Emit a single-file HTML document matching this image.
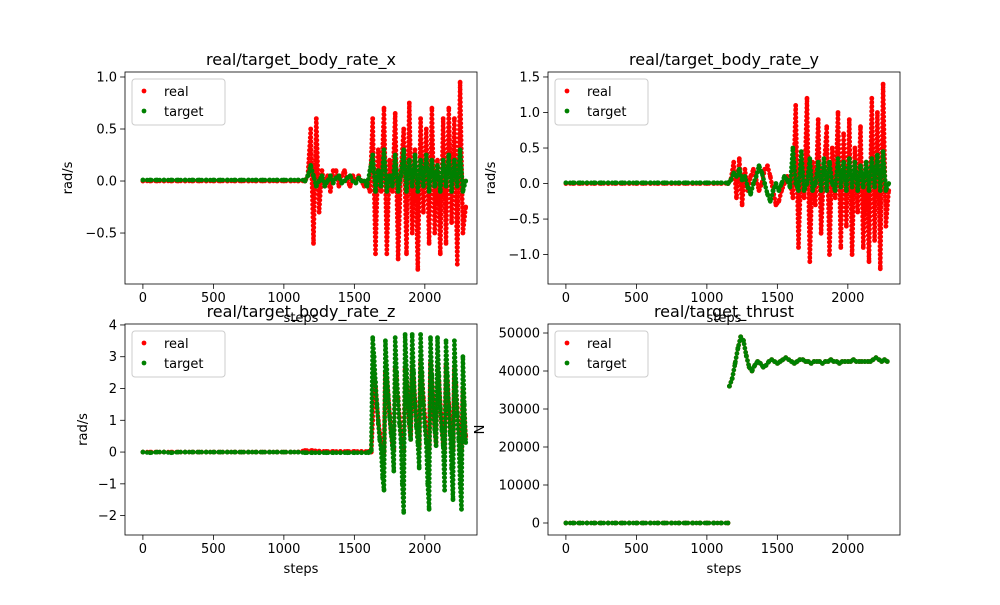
<!DOCTYPE html>
<html><head><meta charset="utf-8">
<style>
html,body{margin:0;padding:0;background:#fff;}
svg text{font-family:"DejaVu Sans","Liberation Sans",sans-serif;}
</style></head>
<body>
<svg id="fig" width="1000" height="600" viewBox="0 0 1000 600" xmlns="http://www.w3.org/2000/svg">
<rect x="0" y="0" width="1000" height="600" fill="#fff"/>
</svg>
<script>
// ---- data: flat segments use stride 50 from step 0; active segments use the given start and stride
const xRealFlat = [0,0,0,0,0,0,0,0,0,0,0,0,0,0,0,0,0,0,0,0,0,0,0,0];
const xTargetFlat = [0.01,0.01,0.01,0.01,0.01,0.01,0.01,0.01,0.01,0.01,0.01,0.01,0.01,0.01,0.01,0.01,0.01,0.01,0.01,0.01,0.01,0.01,0.01,0.01];
const xRealActive = [0,0.05,0.5,-0.6,0.6,-0.3,0.1,-0.05,0.05,-0.1,0.1,0.1,-0.05,0.05,0.1,0,-0.05,0.05,0,0.05,0,-0.05,0,-0.1,0.6,-0.7,0.3,-0.1,0.7,-0.7,0.2,-0.1,0.65,-0.75,0.1,0.5,-0.7,0.75,-0.5,0.3,-0.85,0.6,-0.3,0.5,-0.6,0.7,-0.5,0.2,-0.7,0.6,-0.6,0.7,-0.4,0.6,-0.8,0.95,-0.5,-0.25];
const xTargetActive = [0,0.05,0.15,0.05,-0.05,0,0.05,-0.05,0,0.05,-0.02,0.03,0.05,-0.02,0,0.03,0.05,0,-0.02,0.03,0,0,-0.05,0.1,0.25,-0.1,0.1,-0.05,0.3,-0.1,0.05,-0.05,0.25,-0.1,0.05,0.3,-0.1,0.2,-0.05,0.25,-0.1,0.2,-0.05,0.25,-0.1,0.2,-0.05,0.15,-0.1,0.2,-0.05,0.25,-0.1,0.2,-0.05,0.3,-0.1,0];
const yRealFlat = [0,0,0,0,0,0,0,0,0,0,0,0,0,0,0,0,0,0,0,0,0,0,0,0];
const yTargetFlat = [0.01,0.01,0.01,0.01,0.01,0.01,0.01,0.01,0.01,0.01,0.01,0.01,0.01,0.01,0.01,0.01,0.01,0.01,0.01,0.01,0.01,0.01,0.01,0.01];
const yRealActive = [0,0.05,0.3,-0.2,0.35,-0.3,0.2,-0.1,0.1,0.2,0.05,-0.1,0,0.2,0.25,0.1,-0.1,-0.3,-0.25,-0.1,0,0.1,0,-0.2,1.1,-0.9,0.3,-0.2,1.2,-1.1,0.3,-0.3,0.9,-0.7,0.2,0.8,-1.0,0.5,-0.2,1.0,-0.9,0.7,-0.6,0.9,-1.0,0.5,-0.4,0.8,-0.9,0.3,-1.1,1.2,-0.8,1.0,-1.2,1.4,-0.6,-0.1];
const yTargetActive = [0,0.05,0.15,0.1,0.2,0.05,0.1,-0.05,-0.15,0,0.1,0.25,0.15,0,-0.15,-0.25,-0.1,0,-0.1,0,0.1,0.05,-0.05,0.5,0,-0.1,0.45,-0.1,0,0.35,-0.1,0,0.3,-0.1,0.35,-0.1,0.3,0,-0.1,0.35,-0.05,0.3,-0.1,0.35,-0.05,0.3,-0.1,0.25,-0.05,0.3,-0.1,0.35,-0.05,0.4,-0.1,0.45,-0.1,0];
const zRealFlat = [0,0,0,0,0,0,0,0,0,0,0,0,0,0,0,0,0,0,0,0,0,0,0,0.05,0.05,0.03,0.02,0.02,0.02,0.02,0.02,0.02,0.02];
const zTargetFlat = [0,-0.02,0,0,-0.02,0,0,0,0,0,0,0,0,0,0,0,0,0,0,0,0,0,0,-0.02,-0.02,-0.02,-0.02,-0.02,-0.02,-0.02,-0.02,-0.02,-0.02];
const zRealActive = [0,0,0,1.0,2.5,2.0,1.5,1.0,0.6,0.3,0.1,0,2.5,2.3,1.8,1.2,0.7,0.3,0.1,2.6,2.3,1.7,1.1,0.6,0.3,0.1,2.6,2.2,1.5,0.9,0.4,2.7,2.3,1.6,1.0,0.5,0.2,2.8,2.4,1.7,1.1,0.6,0.3,0.1,2.8,2.2,1.5,0.8,0.3,2.7,2.2,1.5,0.8,0.3,0.1,2.7,2.2,1.5,0.8,0.3,0.1,2.6,2.1,1.4,0.7,0.3,0.1,2.0,1.2,0.5];
const zTargetActive = [0,0,0.05,3.6,3.0,2.2,1.5,0.9,0.4,0.1,-0.8,-1.2,3.5,2.6,1.8,1.1,0.6,0.2,-0.6,3.6,2.5,1.6,0.9,0.4,-1.0,-1.9,3.7,2.6,1.6,0.9,0.4,3.7,2.5,1.5,0.8,0.3,-0.5,3.7,2.5,1.5,0.8,0.3,-1.0,-1.8,3.6,2.4,1.4,0.7,0.2,3.6,2.4,1.4,0.7,0.2,-1.2,3.5,2.4,1.4,0.6,-0.5,-1.5,3.5,2.2,1.2,0.4,-1.0,-1.8,3.0,1.5,0.3];
const tRealFlat = [0,0,0,0,0,0,0,0,0,0,0,0,0,0,0,0,0,0,0,0,0,0,0,0];
const tTargetFlat = [0,0,0,0,0,0,0,0,0,0,0,0,0,0,0,0,0,0,0,0,0,0,0,0];
const tRealActive = [36000,38000,42000,46000,49000,48000,44000,41000,40000,41500,42500,42000,41000,41500,42500,43000,42500,42000,42500,43000,43500,43000,42500,42000,42500,43000,43000,42500,42500,42000,42500,42500,42500,42000,42500,42500,43000,42500,42500,42000,42500,42500,42500,42500,43000,42500,42500,42500,42500,42500,42500,43000,43500,43000,42500,43000,42500];
const tTargetActive = [36000,38000,42000,46000,49000,48000,44000,41000,40000,41500,42500,42000,41000,41500,42500,43000,42500,42000,42500,43000,43500,43000,42500,42000,42500,43000,43000,42500,42500,42000,42500,42500,42500,42000,42500,42500,43000,42500,42500,42000,42500,42500,42500,42500,43000,42500,42500,42500,42500,42500,42500,43000,43500,43000,42500,43000,42500];
const xTicks = [0,500,1000,1500,2000];
const ticksX = [-0.5,0.0,0.5,1.0];
const ticksY = [-1.0,-0.5,0.0,0.5,1.0,1.5];
const ticksZ = [-2,-1,0,1,2,3,4];
const ticksT = [0,10000,20000,30000,40000,50000];

const NS = "http://www.w3.org/2000/svg";
const svg = document.getElementById('fig');
function mk(tag, attrs, parent){
  const e = document.createElementNS(NS, tag);
  for (const k in attrs) e.setAttribute(k, attrs[k]);
  (parent||svg).appendChild(e);
  return e;
}
const panels = [
  {name:'body-rate-x', title:'real/target_body_rate_x', L:125,T:72,W:352,H:212, ymin:-0.99, ymax:1.048, yt:ticksX, yfmt:v=>v.toFixed(1), ylabel:'rad/s', ylx:72,
   series:[[xRealFlat,xRealActive,1150,20,'#ff0000','real'],[xTargetFlat,xTargetActive,1150,20,'#008000','target']]},
  {name:'body-rate-y', title:'real/target_body_rate_y', L:548,T:72,W:352,H:212, ymin:-1.414, ymax:1.57, yt:ticksY, yfmt:v=>v.toFixed(1), ylabel:'rad/s', ylx:495,
   series:[[yRealFlat,yRealActive,1150,20,'#ff0000','real'],[yTargetFlat,yTargetActive,1150,20,'#008000','target']]},
  {name:'body-rate-z', title:'real/target_body_rate_z', L:125,T:324,W:352,H:211, ymin:-2.61, ymax:4.03, yt:ticksZ, yfmt:v=>String(v), ylabel:'rad/s', ylx:87,
   series:[[zRealFlat,zRealActive,1600,10,'#ff0000','real'],[zTargetFlat,zTargetActive,1600,10,'#008000','target']]},
  {name:'thrust', title:'real/target_thrust', L:548,T:324,W:352,H:211, ymin:-3160, ymax:52370, yt:ticksT, yfmt:v=>String(v), ylabel:'N', ylx:484,
   series:[[tRealFlat,tRealActive,1160,20,'#ff0000','real'],[tTargetFlat,tTargetActive,1160,20,'#008000','target']], gap:true}
];
const XMIN=-127, XMAX=2370;
panels.forEach(p=>{
  const g = mk('g',{});
  
  
  const sx = v => p.L + (v-XMIN)/(XMAX-XMIN)*p.W;
  const sy = v => p.T + p.H - (v-p.ymin)/(p.ymax-p.ymin)*p.H;
  const clipId = 'c'+p.name;
  const cp = mk('clipPath',{id:clipId},g);
  mk('rect',{x:p.L,y:p.T,width:p.W,height:p.H},cp);
  const plot = mk('g',{'clip-path':'url(#'+clipId+')'},g);
  
  
  p.series.forEach(s=>{
    const [flat, act, start, stride, col, label] = s;
    const pts = [];
    flat.forEach((v,i)=>{ if (i*50 <= start) pts.push([i*50, v, 0]); });
    act.forEach((v,i)=>pts.push([start+i*stride, v, 1]));
    let d = '';
    pts.forEach((q,i)=>{
      const brk = i===0 || (p.gap && pts[i-1][2]!==q[2]);
      d += (brk?'M':'L') + sx(q[0]).toFixed(1) + ' ' + sy(q[1]).toFixed(1) + ' ';
    });
    const path = mk('path',{d:d, fill:'none', stroke:col, 'stroke-width':4.6, 'stroke-dasharray':'0.01 4.2', 'stroke-linejoin':'round', 'stroke-linecap':'round'}, plot);
    
    
    pts.forEach(q=>{
      const c = mk('circle',{cx:sx(q[0]).toFixed(1), cy:sy(q[1]).toFixed(1), r:2.4, fill:col}, plot);
      
      
    });
  });
  const frame = mk('rect',{x:p.L,y:p.T,width:p.W,height:p.H,fill:'none',stroke:'#000','stroke-width':0.8},g);
  
  
  xTicks.forEach(v=>{
    const x = sx(v);
    mk('line',{x1:x,x2:x,y1:p.T+p.H,y2:p.T+p.H+4.9,stroke:'#000','stroke-width':0.8},g);
    const t = mk('text',{x:x,y:p.T+p.H+18,'font-size':13,'text-anchor':'middle',fill:'#000'},g);
    t.textContent = v;
    
    
  });
  p.yt.forEach(v=>{
    const y = sy(v);
    mk('line',{x1:p.L-4.9,x2:p.L,y1:y,y2:y,stroke:'#000','stroke-width':0.8},g);
    const t = mk('text',{x:p.L-8,y:y+4.5,'font-size':13,'text-anchor':'end',fill:'#000'},g);
    t.textContent = v<0 ? '\u2212'+p.yfmt(-v) : p.yfmt(v);
    
    
  });
  const xl = mk('text',{x:p.L+p.W/2,y:p.T+p.H+38,'font-size':13,'text-anchor':'middle',fill:'#000'},g);
  xl.textContent = 'steps';
  
  
  const yl = mk('text',{x:p.ylx,y:p.T+p.H/2,'font-size':13,'text-anchor':'middle',fill:'#000',transform:'rotate(-90 '+p.ylx+' '+(p.T+p.H/2)+')'},g);
  yl.textContent = p.ylabel;
  
  
  const tt = mk('text',{x:p.L+p.W/2,y:p.T-7,'font-size':16,'text-anchor':'middle',fill:'#000'},g);
  tt.textContent = p.title;
  
  
  const lg = mk('g',{},g);
  
  
  mk('rect',{x:p.L+7,y:p.T+7,width:93,height:46,rx:3,fill:'#fff','fill-opacity':0.8,stroke:'#cccccc','stroke-width':1},lg);
  [['real','#ff0000'],['target','#008000']].forEach((e,i)=>{
    const y = p.T+19+i*20;
    mk('circle',{cx:p.L+19,cy:y,r:2.4,fill:e[1]},lg);
    const t = mk('text',{x:p.L+39,y:y+5,'font-size':13,fill:'#000'},lg);
    t.textContent = e[0];
    
    
  });
});
</script>
</body></html>
